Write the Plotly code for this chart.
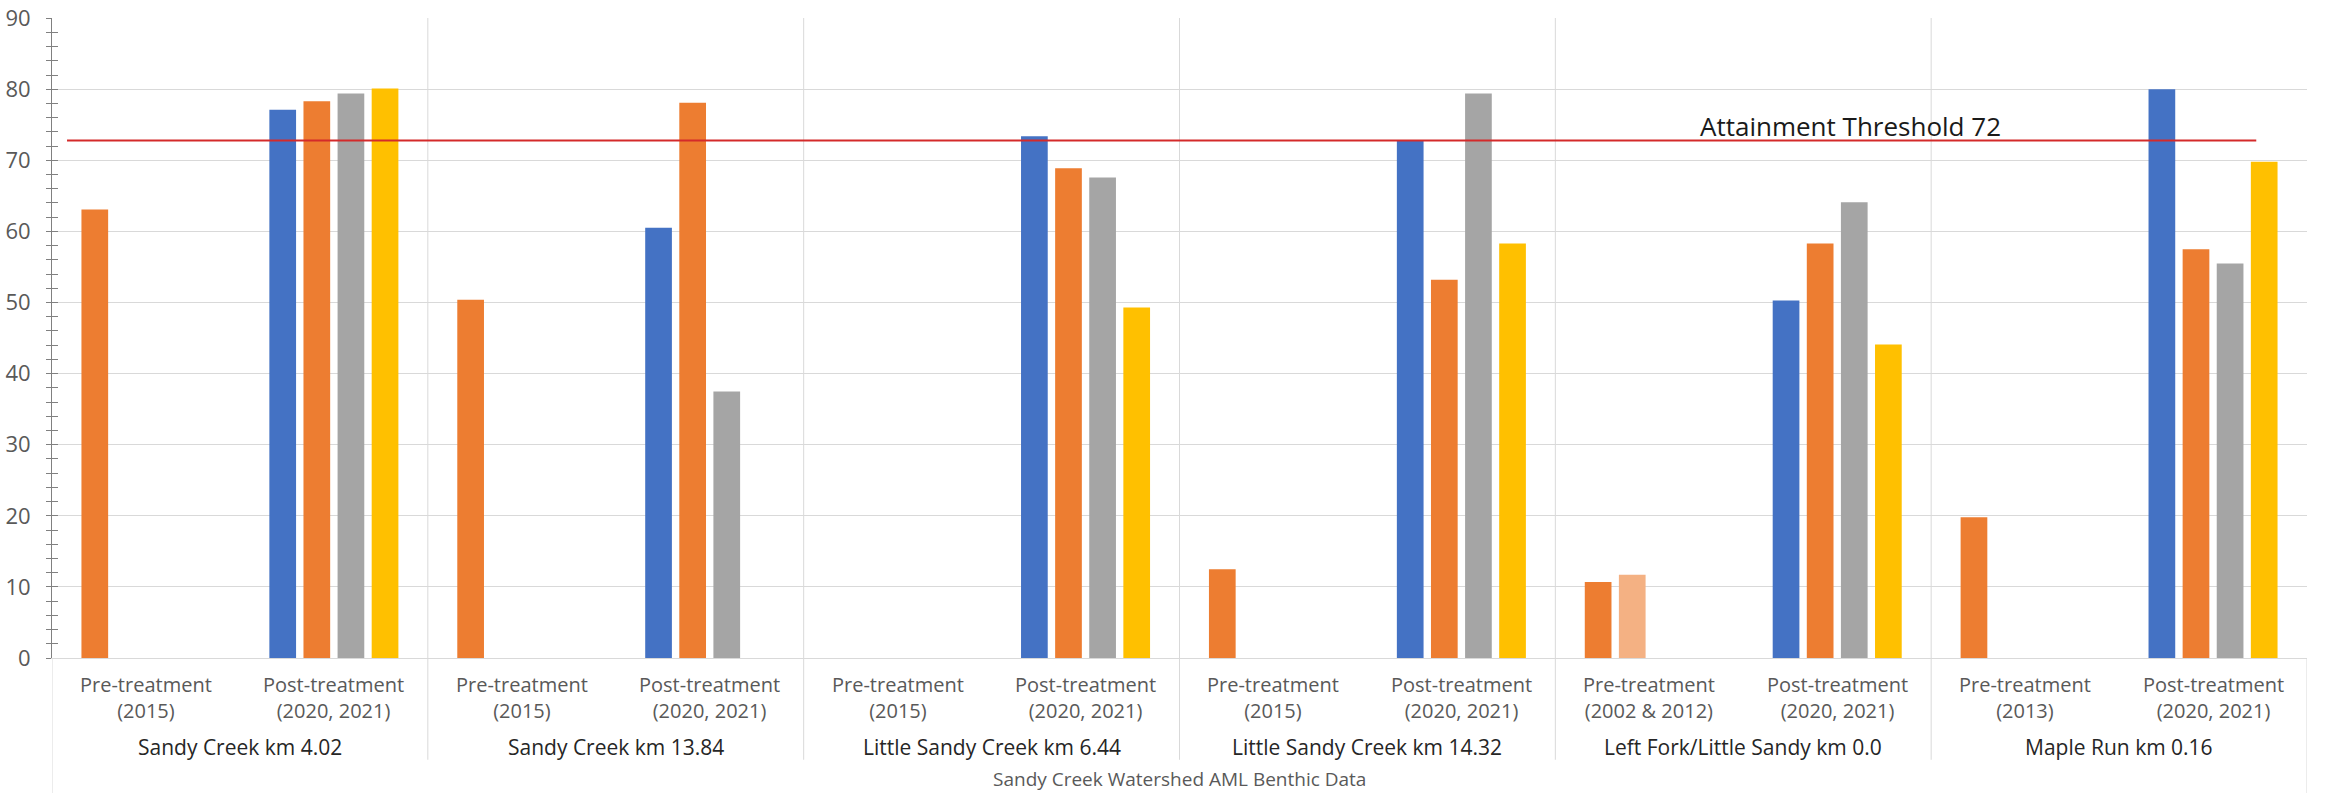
import plotly.graph_objects as go

# ---------------- data ----------------
sites = [
    "Sandy Creek km 4.02",
    "Sandy Creek km 13.84",
    "Little Sandy Creek km 6.44",
    "Little Sandy Creek km 14.32",
    "Left Fork/Little Sandy km 0.0",
    "Maple Run km 0.16",
]
pre_labels = [
    "Pre-treatment<br>(2015)",
    "Pre-treatment<br>(2015)",
    "Pre-treatment<br>(2015)",
    "Pre-treatment<br>(2015)",
    "Pre-treatment<br>(2002 & 2012)",
    "Pre-treatment<br>(2013)",
]
post_label = "Post-treatment<br>(2020, 2021)"
axis_title = "Sandy Creek Watershed AML Benthic Data"

# pre-treatment values (first sample, second sample)
pre_first = [63.1, 50.4, None, 12.5, 10.7, 19.8]
pre_second = [None, None, None, None, 11.7, None]
# post-treatment values, four samples
post_s1 = [77.1, 60.5, 73.4, 72.8, 50.3, 80.0]
post_s2 = [78.3, 78.1, 68.9, 53.2, 58.3, 57.5]
post_s3 = [79.4, 37.5, 67.6, 79.4, 64.1, 55.5]
post_s4 = [80.1, None, 49.3, 58.3, 44.1, 69.8]

threshold_value = 72.8
threshold_text = "Attainment Threshold 72"
y_ticks = list(range(0, 91, 10))

# ---------------- styling ----------------
BLUE, ORANGE, GRAY, YELLOW, LIGHT_ORANGE = "#4472C4", "#ED7D31", "#A5A5A5", "#FFC000", "#F4B183"
GRID = "#D9D9D9"
AXIS = "#808080"
FONT = "Open Sans"

n = len(sites)
xs = list(range(2 * n))


def interleave(pre, post):
    out = []
    for a, b in zip(pre, post):
        out += [a, b]
    return out


none_list = [None] * n
series = [
    (interleave(pre_first, post_s1), [ORANGE, BLUE]),
    (interleave(pre_second, post_s2), [LIGHT_ORANGE, ORANGE]),
    (interleave(none_list, post_s3), [GRAY, GRAY]),
    (interleave(none_list, post_s4), [YELLOW, YELLOW]),
]

fig = go.Figure()
for vals, (c_pre, c_post) in series:
    fig.add_trace(go.Bar(
        x=xs, y=vals,
        marker=dict(color=[c_pre, c_post] * n, line=dict(width=0)),
        showlegend=False, hoverinfo="y",
    ))

# dummy trace for the overlaid axis (inside half of the cross ticks)
fig.add_trace(go.Scatter(x=[None], y=[None], yaxis="y2", showlegend=False, hoverinfo="skip"))

shapes = []
# vertical gridlines between sites, extending into the label area
for k in range(1, n):
    shapes.append(dict(type="line", xref="x", yref="paper", x0=2 * k - 0.5, x1=2 * k - 0.5,
                       y0=1, y1=-0.159, line=dict(color=GRID, width=1), layer="below"))
# left & right borders of the category label box
shapes.append(dict(type="line", xref="x", yref="paper", x0=-0.5, x1=-0.5, y0=0, y1=-0.215,
                   line=dict(color=GRID, width=1), layer="below"))
shapes.append(dict(type="line", xref="x", yref="paper", x0=2 * n - 0.5, x1=2 * n - 0.5, y0=0, y1=-0.215,
                   line=dict(color=GRID, width=1), layer="below"))
# threshold line
shapes.append(dict(type="line", xref="x", yref="y", x0=-0.42, x1=11.23,
                   y0=threshold_value, y1=threshold_value,
                   line=dict(color="#D42A2A", width=2), layer="above"))

annotations = []
for k in range(n):
    annotations.append(dict(x=2 * k, y=0, xref="x", yref="paper", text=pre_labels[k],
                            showarrow=False, yanchor="middle", yshift=-39,
                            font=dict(family=FONT, size=20, color="#595959")))
    annotations.append(dict(x=2 * k + 1, y=0, xref="x", yref="paper", text=post_label,
                            showarrow=False, yanchor="middle", yshift=-39,
                            font=dict(family=FONT, size=20, color="#595959")))
    annotations.append(dict(x=2 * k + 0.5, y=0, xref="x", yref="paper", text=sites[k],
                            showarrow=False, yanchor="middle", yshift=-89,
                            font=dict(family=FONT, size=21, color="#262626")))
annotations.append(dict(x=(2 * n - 1) / 2, y=0, xref="x", yref="paper", text=axis_title,
                        showarrow=False, yanchor="middle", yshift=-121,
                        font=dict(family=FONT, size=19, color="#595959")))
annotations.append(dict(x=9.07, y=threshold_value, xref="x", yref="y", text=threshold_text,
                        showarrow=False, yanchor="middle", yshift=14,
                        font=dict(family=FONT, size=26, color="#1A1A1A")))

fig.update_layout(
    template="none",
    width=2325, height=793, autosize=False,
    margin=dict(l=52, r=18, t=18, b=135, pad=0),
    paper_bgcolor="white", plot_bgcolor="white",
    barmode="group", bargap=0.274, bargroupgap=0.217,
    showlegend=False,
    shapes=shapes, annotations=annotations,
    xaxis=dict(range=[-0.5, 2 * n - 0.5], showticklabels=False, ticks="", showgrid=False,
               zeroline=False, showline=True, linecolor=GRID, linewidth=1, automargin=False,
               fixedrange=True),
    yaxis=dict(range=[0, 90.02], tickvals=y_ticks, ticks="outside", ticklen=5, tickcolor=AXIS,
               tickwidth=1, showline=True, linecolor=AXIS, linewidth=1, showgrid=True,
               gridcolor=GRID, gridwidth=1, zeroline=False, automargin=False,
               ticklabelstandoff=11, ticklabeloverflow="allow",
               tickfont=dict(family=FONT, size=22, color="#595959"),
               minor=dict(dtick=2, ticks="outside", ticklen=5, tickcolor=AXIS, showgrid=False)),
    yaxis2=dict(overlaying="y", matches="y", side="left", anchor="x",
                tickvals=y_ticks, ticks="inside", ticklen=6, tickcolor=AXIS, tickwidth=1,
                showticklabels=False, showgrid=False, showline=False, zeroline=False,
                automargin=False,
                minor=dict(dtick=2, ticks="inside", ticklen=6, tickcolor=AXIS, showgrid=False)),
)

fig.write_html("out.html", config={"displayModeBar": False},
               post_script="document.body.style.margin='0';document.body.style.overflow='hidden';")
